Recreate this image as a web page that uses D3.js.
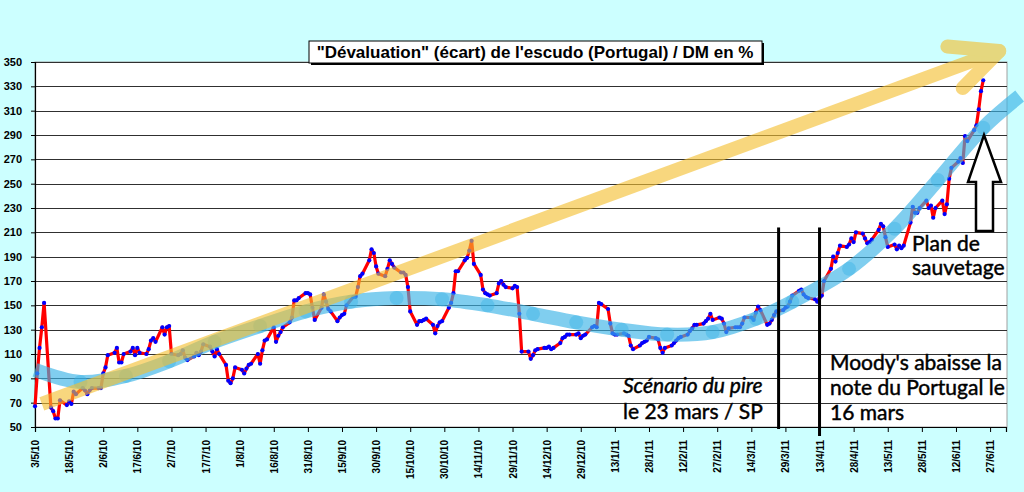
<!DOCTYPE html>
<html>
<head>
<meta charset="utf-8">
<script src="https://cdn.jsdelivr.net/npm/d3@7"></script>
<style>
body { margin: 0; background: #ccffff; }
svg { display: block; }
</style>
</head>
<body>
<div id="chart"></div>
<script>
var width = 1024, height = 492;
var plot = {left: 35, right: 1007, top: 62, bottom: 427};

// daily closes (business days) starting 3/5/10
var startDate = "2010-05-03";
var values = [
  // mai 10
  67, 94, 115, 132, 152, 66, 63, 57, 57, 72, 68, 71, 69, 79, 77, 82, 80, 77, 80, 82, 82,
  // juin 10
  82, 94, 99, 109, 111, 115, 103, 103, 110, 112, 115, 109, 115, 111, 110, 114, 121, 123, 120, 132, 126, 132,
  // juil 10
  133, 110, 109, 110, 113, 107, 105, 108, 111, 109, 112, 118, 116, 112, 108, 114, 110, 101, 88, 86, 90, 99,
  // aout 10
  97, 94, 98, 101, 102, 110, 102, 113, 121, 122, 132, 120, 125, 128, 132, 136, 140, 154, 154, 156, 160, 160,
  // sept 10
  159, 148, 138, 148, 159, 153, 147, 145, 137, 140, 142, 143, 150, 157, 157, 165, 174, 176, 187, 196, 193, 182,
  // oct 10
  176, 174, 180, 187, 184, 181, 177, 177, 175, 165, 145, 134, 137, 137, 138, 139, 134, 127, 133, 136, 137,
  // nov 10
  148, 152, 160, 178, 178, 187, 189, 195, 203, 184, 175, 163, 160, 159, 158, 160, 168, 170, 167, 165, 164, 166,
  // dec 10
  165, 143, 112, 112, 106, 109, 113, 114, 115, 115, 116, 114, 115, 119, 123, 124, 126, 126, 126, 127, 123, 125, 126,
  // janv 11
  132, 133, 132, 152, 151, 147, 135, 127, 126, 126, 127, 126, 125, 117, 114, 117, 119, 120, 121, 124, 123,
  // fev 11
  122, 115, 111, 115, 117, 119, 121, 123, 124, 126, 129, 131, 134, 134, 135, 137, 139, 143, 138, 140,
  // mars 11
  139, 135, 128, 131, 132, 132, 132, 135, 140, 140, 138, 144, 149, 146, 134, 135, 138, 142, 145, 146, 148, 149, 153,
  // avr 11
  158, 162, 163, 159, 157, 156, 155, 153, 156, 158, 170, 180, 190, 186, 193, 199, 198, 200, 205, 202, 210,
  // mai 11
  209, 205, 201, 202, 204, 212, 217, 215, 206, 198, 200, 196, 199, 197, 199, 218, 231, 226, 226, 230, 236, 230,
  // juin 11
  232, 222, 230, 236, 225, 233, 254, 263, 268, 271, 267, 289, 285, 294, 298, 311, 326, 335
];

var xTickLabels = ["3/5/10", "18/5/10", "2/6/10", "17/6/10", "2/7/10", "17/7/10", "1/8/10", "16/8/10",
  "31/8/10", "15/9/10", "30/9/10", "15/10/10", "30/10/10", "14/11/10", "29/11/10", "14/12/10",
  "29/12/10", "13/1/11", "28/1/11", "12/2/11", "27/2/11", "14/3/11", "29/3/11", "13/4/11",
  "28/4/11", "13/5/11", "28/5/11", "12/6/11", "27/6/11"];
var yTicks = [50, 70, 90, 110, 130, 150, 170, 190, 210, 230, 250, 270, 290, 310, 330, 350];

// hand drawn blue trend curve
var trendDates = ["2010-05-03", "2010-05-23", "2010-06-12", "2010-07-01", "2010-07-21", "2010-08-10",
  "2010-08-30", "2010-09-19", "2010-10-09", "2010-10-29", "2010-11-18", "2010-12-08", "2010-12-27",
  "2011-01-16", "2011-02-05", "2011-02-25", "2011-03-16", "2011-04-01", "2011-04-26", "2011-05-16",
  "2011-06-04", "2011-06-24", "2011-07-10"];
var trendValues = [97, 87, 92, 104, 120, 133, 145, 153, 156, 155, 150, 143, 136, 130, 126, 128, 139,
  153, 180, 213, 253, 296, 322];

// yellow arrow and event lines
var arrowDates = ["2010-05-06", "2011-07-01"];
var arrowValues = [69, 359];
var eventDates = ["2011-03-26", "2011-04-13"];

var parseIso = d3.utcParse("%Y-%m-%d");
var parseTick = d3.utcParse("%d/%m/%y");

var dates = [];
var day = parseIso(startDate);
while (dates.length < values.length) {
  var wd = day.getUTCDay();
  if (wd !== 0 && wd !== 6) dates.push(day);
  day = d3.utcDay.offset(day, 1);
}
var series = dates.map(function(d, i) { return {date: d, value: values[i]}; });

var x = d3.scaleUtc()
  .domain([parseIso("2010-05-03"), parseIso("2011-07-04")])
  .range([plot.left, plot.right - 1]);
var y = d3.scaleLinear().domain([50, 350]).range([plot.bottom, plot.top]);

var svg = d3.select("#chart").append("svg")
  .attr("width", width)
  .attr("height", height);

svg.append("rect").attr("width", width).attr("height", height).attr("fill", "#ccffff");

//plot area
svg.append("rect")
  .attr("x", plot.left).attr("y", plot.top)
  .attr("width", plot.right - plot.left).attr("height", plot.bottom - plot.top)
  .attr("fill", "#ffffff")
  .attr("stroke", "#a0a0a0");

//gridlines
svg.append("g").selectAll("line")
  .data(yTicks.slice(1))
  .enter().append("line")
    .attr("x1", plot.left).attr("x2", plot.right)
    .attr("y1", function(d) { return Math.round(y(d)) + 0.5; })
    .attr("y2", function(d) { return Math.round(y(d)) + 0.5; })
    .attr("stroke", "#303030")
    .attr("stroke-width", 1);

//axes
var yAxis = svg.append("g")
  .attr("transform", "translate(" + plot.left + ",0)")
  .call(d3.axisLeft(y).tickValues(yTicks).tickSize(4).tickPadding(9).tickFormat(d3.format("d")));
var xAxis = svg.append("g")
  .attr("transform", "translate(0," + plot.bottom + ")")
  .call(d3.axisBottom(x).tickValues(xTickLabels.map(function(s) { return parseTick(s); }))
    .tickSize(5).tickFormat(function(d, i) { return xTickLabels[i]; }));
[yAxis, xAxis].forEach(function(a) {
  a.select(".domain").attr("stroke", "#000").attr("stroke-width", 1.2);
  a.selectAll(".tick line").attr("stroke", "#000");
  a.selectAll("text")
    .attr("fill", "#000")
    .attr("font-family", "'Liberation Sans', Arial, sans-serif")
    .attr("font-weight", "bold");
});
yAxis.selectAll("text").attr("font-size", "11px");
xAxis.selectAll("text")
  .attr("font-size", "10px")
  .attr("text-anchor", "end")
  .attr("transform", "rotate(-90)")
  .attr("x", -13).attr("y", 0).attr("dy", "0.35em");

//series
var line = d3.line()
  .x(function(d) { return x(d.date); })
  .y(function(d) { return y(d.value); });
svg.append("path")
  .datum(series)
  .attr("fill", "none")
  .attr("stroke", "#ff0000")
  .attr("stroke-width", 3.2)
  .attr("stroke-linejoin", "round")
  .attr("d", line);
svg.append("g").selectAll("circle")
  .data(series)
  .enter().append("circle")
    .attr("cx", function(d) { return x(d.date); })
    .attr("cy", function(d) { return y(d.value); })
    .attr("r", 2.1)
    .attr("fill", "#0000ff");

//blue trend band
var trend = trendDates.map(function(d, i) { return {date: parseIso(d), value: trendValues[i]}; });
svg.append("path")
  .datum(trend)
  .attr("fill", "none")
  .attr("stroke", "#3cb4e6")
  .attr("stroke-opacity", 0.65)
  .attr("stroke-width", 14)
  .attr("d", d3.line().curve(d3.curveCatmullRom)
    .x(function(d) { return x(d.date); })
    .y(function(d) { return y(d.value); }));
svg.append("g").selectAll("circle")
  .data(trend.slice(1, -1))
  .enter().append("circle")
    .attr("cx", function(d) { return x(d.date); })
    .attr("cy", function(d) { return y(d.value); })
    .attr("r", 7)
    .attr("fill", "#3cb4e6")
    .attr("fill-opacity", 0.45);

//yellow arrow
var arrow = svg.append("g").attr("opacity", 0.62);
var ax0 = x(parseIso(arrowDates[0])), ay0 = y(arrowValues[0]);
var ax1 = x(parseIso(arrowDates[1])), ay1 = y(arrowValues[1]);
var ang = Math.atan2(ay0 - ay1, ax0 - ax1);
arrow.append("line")
  .attr("x1", ax0).attr("y1", ay0).attr("x2", ax1).attr("y2", ay1)
  .attr("stroke", "#f5c030").attr("stroke-width", 14);
[-0.44, 0.44].forEach(function(o) {
  arrow.append("line")
    .attr("x1", ax1).attr("y1", ay1)
    .attr("x2", ax1 + 52 * Math.cos(ang + o)).attr("y2", ay1 + 52 * Math.sin(ang + o))
    .attr("stroke", "#f5c030").attr("stroke-width", 14)
    .attr("stroke-linecap", "round");
});

//event lines
svg.append("g").selectAll("line")
  .data(eventDates)
  .enter().append("line")
    .attr("x1", function(d) { return x(parseIso(d)); })
    .attr("x2", function(d) { return x(parseIso(d)); })
    .attr("y1", y(214))
    .attr("y2", function(d, i) { return i ? plot.bottom + 9 : plot.bottom + 2; })
    .attr("stroke", "#000")
    .attr("stroke-width", 3);

//hollow arrow
svg.append("path")
  .attr("d", "M984,135 L1001,182 L993,182 L993,231 L976,231 L976,182 L968,182 Z")
  .attr("fill", "#ffffff")
  .attr("stroke", "#000")
  .attr("stroke-width", 2.5)
  .attr("stroke-linejoin", "miter");

//annotations
var notes = [
  {x: 623, y: 393, t: "Scénario du pire", style: "italic"},
  {x: 623, y: 419, t: "le 23 mars / SP", style: "normal"},
  {x: 830, y: 370, t: "Moody's abaisse la", style: "normal"},
  {x: 830, y: 395, t: "note du Portugal le", style: "normal"},
  {x: 830, y: 420, t: "16 mars", style: "normal"},
  {x: 912, y: 251, t: "Plan de", style: "normal"},
  {x: 912, y: 275, t: "sauvetage", style: "normal"}
];
svg.append("g").selectAll("text")
  .data(notes)
  .enter().append("text")
    .attr("x", function(d) { return d.x; })
    .attr("y", function(d) { return d.y; })
    .attr("font-family", "Lato, 'Open Sans', sans-serif")
    .attr("font-size", "21px")
    .attr("font-style", function(d) { return d.style; })
    .attr("fill", "#000")
    .attr("stroke", "#000")
    .attr("stroke-width", 0.45)
    .text(function(d) { return d.t; });

//title box
svg.append("rect")
  .attr("x", 311).attr("y", 43).attr("width", 453).attr("height", 22)
  .attr("fill", "#000");
svg.append("rect")
  .attr("x", 309).attr("y", 41).attr("width", 453).attr("height", 22)
  .attr("fill", "#fff").attr("stroke", "#000").attr("stroke-width", 1);
svg.append("text")
  .attr("x", 535).attr("y", 57.5)
  .attr("text-anchor", "middle")
  .attr("font-family", "'Liberation Sans', Arial, sans-serif")
  .attr("font-weight", "bold")
  .attr("font-size", "17px")
  .text("\"Dévaluation\" (écart) de l'escudo (Portugal) / DM en %");
</script>
</body>
</html>
